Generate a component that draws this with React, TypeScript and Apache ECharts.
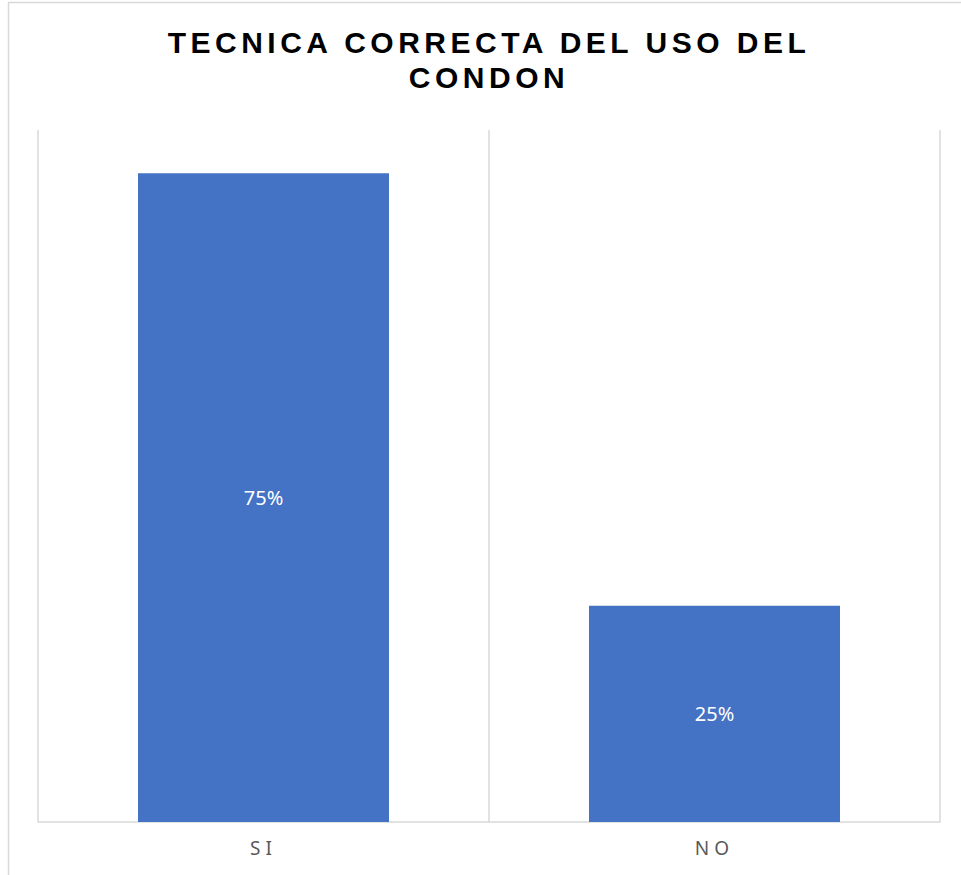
import React, { useEffect, useRef } from "react";
import * as echarts from "echarts";

const categories: string[] = ["SI", "NO"];
const values: number[] = [75, 25];
const titleLines: string[] = ["TECNICA CORRECTA DEL USO DEL", "CONDON"];

export default function App() {
  const ref = useRef<HTMLDivElement>(null);

  useEffect(() => {
    if (!ref.current) return;
    const chart = echarts.init(ref.current, undefined, { renderer: "svg" });
    chart.setOption({
      animation: false,
      backgroundColor: "#ffffff",
      graphic: [
        {
          type: "rect",
          shape: { x: 8.5, y: 2.5, width: 1000, height: 1000 },
          style: { fill: "none", stroke: "#d9d9d9", lineWidth: 1.5 },
          silent: true,
        },
        {
          type: "text",
          x: 489,
          y: 42,
          style: {
            text: titleLines[0],
            font: "bold 30px 'Liberation Sans', Arial, sans-serif",
            fill: "#000000",
            align: "center",
            verticalAlign: "middle",
          },
        },
        {
          type: "text",
          x: 489,
          y: 77,
          style: {
            text: titleLines[1],
            font: "bold 30px 'Liberation Sans', Arial, sans-serif",
            fill: "#000000",
            align: "center",
            verticalAlign: "middle",
          },
        },
      ],
      grid: { left: 38, right: 21, top: 130, bottom: 53, containLabel: false },
      xAxis: {
        type: "category",
        data: categories,
        axisLine: { show: true, lineStyle: { color: "#d9d9d9", width: 1.5 } },
        axisTick: { show: false },
        splitLine: { show: true, lineStyle: { color: "#d9d9d9", width: 1.5 } },
        axisLabel: {
          color: "#595959",
          fontSize: 19,
          fontFamily: "'Noto Sans', sans-serif",
          margin: 16,
        },
      },
      yAxis: {
        type: "value",
        min: 0,
        max: 80,
        show: false,
        splitLine: { show: false },
      },
      series: [
        {
          type: "bar",
          data: values,
          barWidth: 251,
          itemStyle: { color: "#4472C4" },
          label: {
            show: true,
            position: "inside",
            formatter: "{c}%",
            color: "#ffffff",
            fontSize: 20,
            fontFamily: "'Noto Sans', sans-serif",
          },
        },
      ],
    });

    const applySpacing = () => {
      const el = ref.current;
      if (!el) return;
      el.querySelectorAll("text").forEach((t) => {
        const s = (t.textContent || "").trim();
        if (titleLines.includes(s)) {
          t.setAttribute("letter-spacing", "4.5");
        } else if (categories.includes(s)) {
          t.setAttribute("letter-spacing", "5");
        }
      });
    };
    applySpacing();
    chart.on("finished", applySpacing);
    const raf = requestAnimationFrame(applySpacing);

    return () => {
      cancelAnimationFrame(raf);
      chart.dispose();
    };
  }, []);

  return (
    <div
      ref={ref}
      style={{ position: "absolute", left: 0, top: 0, width: 961, height: 875 }}
    />
  );
}
